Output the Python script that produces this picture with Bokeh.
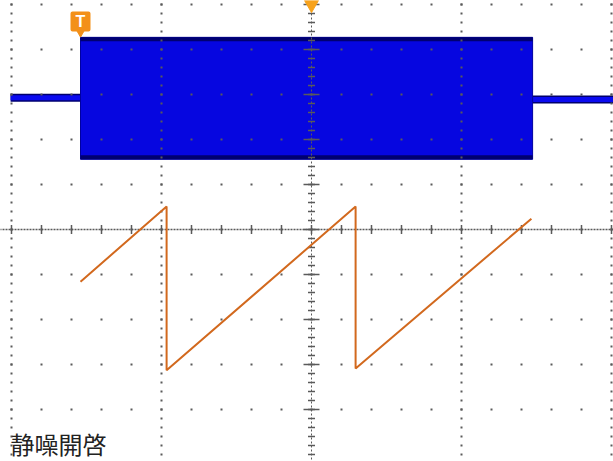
import numpy as np
from bokeh.plotting import figure
from bokeh.models import Range1d, Label
from bokeh.embed import file_html
from bokeh.resources import INLINE

# ---- data (time in minor divisions, amplitude in divisions) ----
ch1_left_t = [-10.03, -7.7]
ch1_left_v = [2.93, 2.93]
ch1_right_t = [7.37, 10.2]
ch1_right_v = [2.89, 2.89]
burst_start = -7.7
burst_end = 7.37
burst_top = 4.27
burst_bottom = 1.56

saw_t = [-7.7, -4.83, -4.83, 1.47, 1.47, 7.33]
saw_v = [-1.16, 0.51, -3.13, 0.51, -3.09, 0.24]

trigger_t = -7.7
title_text = "静噪開啓"

W, H = 613, 461
x0_px, y0_px = 311, 229
px_t, px_v = 30.0, 45.0

p = figure(width=W, height=H, output_backend="svg", toolbar_location=None,
           x_range=Range1d(-x0_px / px_t, (W - x0_px) / px_t),
           y_range=Range1d((y0_px - H) / px_v, y0_px / px_v),
           min_border=0, outline_line_color=None)
p.axis.visible = False
p.grid.visible = False
p.background_fill_color = "white"
p.border_fill_color = "white"

# ---- channel 1 (blue) ----
for t, v in [(ch1_left_t, ch1_left_v), (ch1_right_t, ch1_right_v)]:
    p.line(t, v, line_color="#00006e", line_width=8)
    p.line(t, v, line_color="#0a0af0", line_width=5)
p.quad(left=[burst_start], right=[burst_end], top=[burst_top], bottom=[burst_bottom],
       fill_color="#0606e0", line_color="#0000a0", line_width=1)
edge = 2.0 / px_v
p.line([burst_start, burst_end], [burst_top - edge, burst_top - edge], line_color="#000070", line_width=4)
p.line([burst_start, burst_end], [burst_bottom + edge, burst_bottom + edge], line_color="#000070", line_width=4)

# ---- graticule ----
gc = "#5a5a5a"
rows = np.arange(-4, 6)
cols = np.arange(-10, 11)
gx, gy = np.meshgrid(cols, rows)
p.scatter(gx.ravel(), gy.ravel(), marker="square", size=2, fill_color=gc, line_color=None)
vy = np.arange(-26, 27) * 0.2
for c in [-10, -5, 5, 10]:
    p.scatter(np.full(vy.shape, c), vy, marker="square", size=2, fill_color=gc, line_color=None)
# centre vertical with ticks
p.scatter(np.zeros(vy.shape), vy, marker="dash", size=7, line_color=gc, line_width=1.5)
p.scatter(np.zeros(rows.shape), rows, marker="dash", size=16, line_color=gc, line_width=1.5)
p.line([0, 0], [vy[0], vy[-1]], line_color=gc, line_width=1, line_dash="2 2")
# centre horizontal dashed with ticks
p.line([-10.4, 10.2], [0, 0], line_color=gc, line_width=1.5, line_dash="2 1")
p.scatter(cols, np.zeros(cols.shape), marker="dash", angle=np.pi / 2, size=9,
          line_color=gc, line_width=1.5)

# ---- channel 2 (orange sawtooth) ----
p.line(saw_t, saw_v, line_color="#d2691e", line_width=2)

# ---- markers ----
p.scatter([0], [y0_px / px_v - 4 / px_v], marker="inverted_triangle", size=14,
          fill_color="#f7a21b", line_color="#f7a21b")
tv = (y0_px - 21) / px_v
p.scatter([trigger_t], [tv - 11 / px_v], marker="inverted_triangle", size=8,
          fill_color="#f39019", line_color="#f39019")
p.scatter([trigger_t], [tv], marker="square", size=16, fill_color="#f39019",
          line_color="#f39019", line_width=4, line_join="round")
p.text([trigger_t], [tv], text=["T"], text_color="white", text_font_size="16px",
       text_font_style="bold", text_align="center", text_baseline="middle")

p.add_layout(Label(x=10, y=18, x_units="screen", y_units="screen", text=title_text,
                   text_font="Noto Sans CJK TC", text_font_size="24px",
                   text_color="#222222", text_baseline="middle"))

open("out.html", "w").write(file_html(p, INLINE))
